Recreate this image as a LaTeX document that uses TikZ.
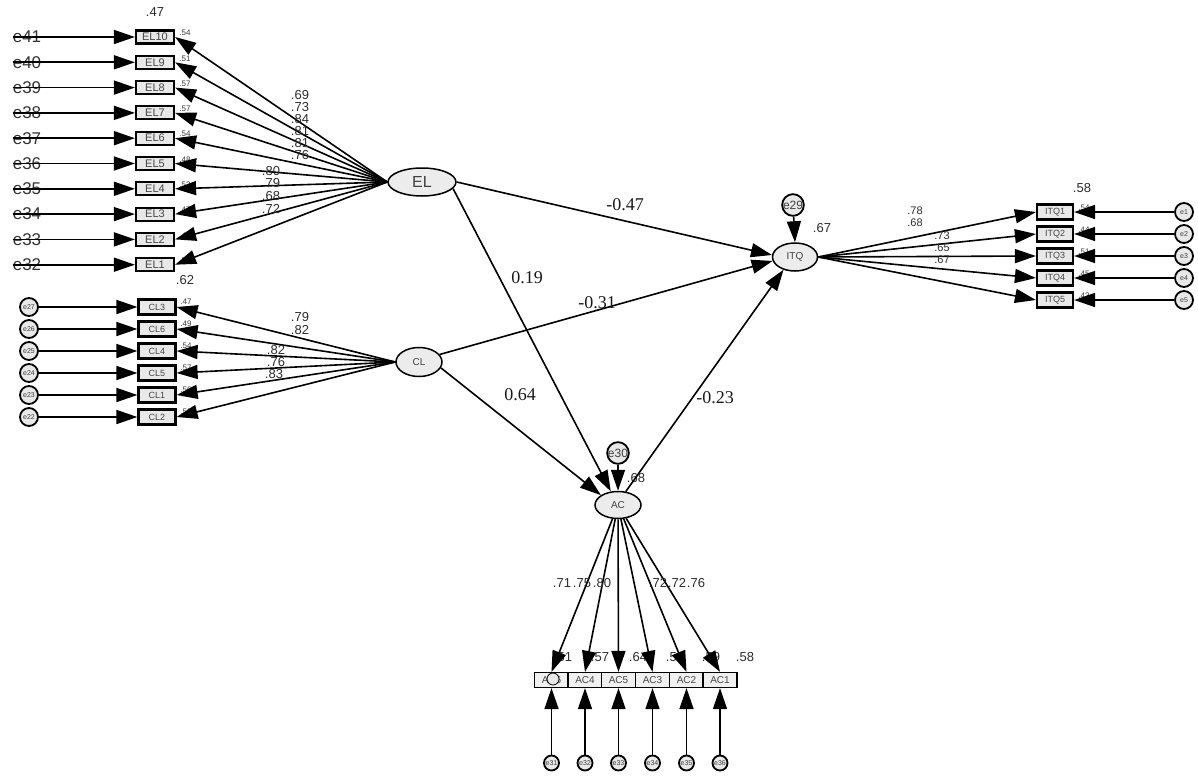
\documentclass[tikz,border=0pt]{standalone}
\usepackage{fontspec}
\setmainfont{Liberation Sans}
\newfontfamily\coeffont{Liberation Serif}
\usetikzlibrary{arrows.meta,shapes.geometric}
\begin{document}
\begin{tikzpicture}[x=1pt,y=-1pt,
  conn/.style={line width=1.6pt,-{Triangle[length=21pt,width=14pt]}},
  obs/.style={draw,line width=2.2pt,fill=gray!18,minimum width=38pt,minimum height=13pt,inner sep=0pt,
    font=\fontsize{11}{11}\selectfont,text=gray!55!black},
  acobs/.style={draw,line width=1.2pt,fill=gray!12,minimum width=34pt,minimum height=15pt,inner sep=0pt,
    font=\fontsize{10}{10}\selectfont,text=gray!55!black},
  lat/.style={draw,ellipse,line width=1.5pt,fill=gray!15,inner sep=0pt,text=gray!50!black},
  errc/.style={draw,circle,line width=1.8pt,fill=gray!18,minimum size=16pt,inner sep=0pt,
    font=\fontsize{7}{7}\selectfont,text=gray!50!black},
  elab/.style={font=\fontsize{17}{17}\selectfont,inner sep=0pt,text=gray!40!black},
  ld/.style={font=\fontsize{13}{13}\selectfont,inner sep=0pt,text=gray!35!black},
  ldsm/.style={font=\fontsize{11}{11}\selectfont,inner sep=0pt,text=gray!35!black},
  rsq/.style={font=\fontsize{8}{8}\selectfont,inner sep=0pt,text=gray!45!black},
  coef/.style={font=\coeffont\fontsize{18}{18}\selectfont,inner sep=0pt,text=gray!20!black}
]
\useasboundingbox[fill=white] (0,0) rectangle (1198,781);

% latent variables
\node[lat,minimum width=68pt,minimum height=28pt,font=\fontsize{16}{16}\selectfont] (EL) at (422,182) {EL};
\node[lat,minimum width=46pt,minimum height=29pt,font=\fontsize{10}{10}\selectfont] (CL) at (419,362) {CL};
\node[lat,minimum width=45pt,minimum height=28pt,font=\fontsize{10}{10}\selectfont] (ITQ) at (795,257) {ITQ};
\node[lat,minimum width=46pt,minimum height=27pt,font=\fontsize{10}{10}\selectfont] (AC) at (618,505) {AC};

% EL indicators
\foreach \n/\e/\r [count=\i from 0] in {10/41/.54,9/40/.51,8/39/.57,7/38/.57,6/37/.54,5/36/.48,4/35/.52,3/34/.47,2/33/.42,1/32/.58} {
  \node[rsq] at (185,{33+25.3*\i}) {\r};
  \node[obs] (el\n) at (155,{37+25.3*\i}) {EL\n};
  \node[elab] (e\e) at (27,{37+25.3*\i}) {e\e};
}
\node[ld] at (155,12) {.47};
\foreach \n/\e in {10/41,9/40,8/39,7/38,6/37,5/36,4/35,3/34,2/33,1/32} {
  \draw[conn] (e\e.west) -- (el\n.west);
  \draw[conn] (EL.west) -- (el\n.east);
}
\foreach \t [count=\i from 0] in {.69,.73,.84,.81,.81,.76}
  \node[ld] at (300,{95+12*\i}) {\t};
\foreach \t [count=\i from 0] in {.80,.79,.68,.72}
  \node[ld] at (271,{171+12.5*\i}) {\t};

% CL indicators
\foreach \n/\e/\r [count=\i from 0] in {3/27/.47,6/26/.49,4/25/.54,5/24/.57,1/23/.56,2/22/.58} {
  \node[rsq] at (186,{302+22*\i}) {\r};
  \node[obs,minimum width=37pt,minimum height=15pt,font=\fontsize{9}{9}\selectfont] (cl\n) at (157,{307+22*\i}) {CL\n};
  \node[errc,minimum size=18pt] (ec\e) at (29,{307+22*\i}) {e\e};
}
\node[ld] at (185,280) {.62};
\foreach \n/\e in {3/27,6/26,4/25,5/24,1/23,2/22} {
  \draw[conn] (ec\e) -- (cl\n.west);
  \draw[conn] (CL.west) -- (cl\n.east);
}
\node[ld] at (300,317) {.79};
\node[ld] at (300,330) {.82};
\node[ld] at (276,350) {.82};
\node[ld] at (276,362) {.76};
\node[ld] at (274,374) {.83};

% ITQ indicators
\foreach \n/\e/\r [count=\i from 0] in {1/1/.54,2/2/.44,3/3/.51,4/4/.45,5/5/.43} {
  \node[rsq] at (1084,{208+22*\i}) {\r};
  \node[obs,minimum width=36pt,minimum height=15pt,font=\fontsize{9}{9}\selectfont] (itq\n) at (1055,{212+22*\i}) {ITQ\n};
  \node[errc,minimum size=18pt] (ei\e) at (1184,{212+22*\i}) {e\e};
}
\node[ld] at (1082,188) {.58};
\foreach \n in {1,...,5} {
  \draw[conn] (ITQ.east) -- (itq\n.west);
  \draw[conn] (ei\n) -- (itq\n.east);
}
\node[ldsm] at (915,211) {.78};
\node[ldsm] at (915,223) {.68};
\node[ldsm] at (942,236) {.73};
\node[ldsm] at (942,248) {.65};
\node[ldsm] at (942,260) {.67};

% disturbance of ITQ
\node[errc,font=\fontsize{12}{12}\selectfont] (e29) at (793,205) {e29};
\draw[conn] (e29) -- (ITQ.north);
\node[ld] at (822,228) {.67};

% AC indicators
\foreach \t/\x in {.51/563,.57/600,.64/638,.52/675,.59/711,.58/745}
  \node[ld] at (\x,657) {\t};
\foreach \n/\e/\x in {6/31/551.5,4/32/585,5/33/618.5,3/34/652.5,2/35/686.5,1/36/720} {
  \node[acobs] (ac\n) at (\x,680) {AC\n};
  \node[errc,minimum size=15pt] (ea\e) at (\x,763) {e\e};
}
\node[errc,minimum size=12pt,line width=0.8pt] (acx) at (553,679) {};
\foreach \n/\e in {6/31,4/32,5/33,3/34,2/35,1/36} {
  \draw[conn] (AC) -- (ac\n.north);
  \draw[conn] (ea\e) -- (ac\n.south);
}
\foreach \t/\x in {.71/562,.75/582,.80/602,.72/658,.72/677,.76/696}
  \node[ld] at (\x,583) {\t};

% disturbance of AC
\node[errc,font=\fontsize{12}{12}\selectfont] (e30) at (618,453) {e30};
\draw[conn] (e30) -- (AC.north);
\node[ld] at (636,478) {.68};

% structural paths
\draw[conn] (EL.east) -- (ITQ.175);
\draw[conn] (CL.20) -- (ITQ.190);
\draw[conn] (EL.-12) -- (AC.118);
\draw[conn] (CL.-15) -- (AC.150);
\draw[conn] (AC.60) -- (ITQ.228);
\node[coef] at (625,205) {-0.47};
\node[coef] at (597,303) {-0.31};
\node[coef] at (527,278) {0.19};
\node[coef] at (520,395) {0.64};
\node[coef] at (715,398) {-0.23};
\end{tikzpicture}
\end{document}
